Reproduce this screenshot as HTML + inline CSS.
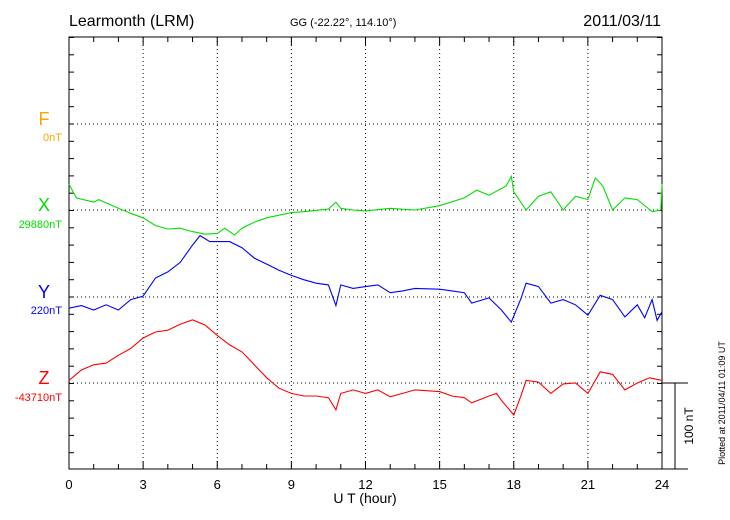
<!DOCTYPE html>
<html><head><meta charset="utf-8"><style>
body{margin:0;background:#fff;}
svg{display:block;font-family:"Liberation Sans",sans-serif;}
</style></head><body>
<svg id="chart" width="730" height="520" viewBox="0 0 730 520">
<text x="69" y="26" font-size="16">Learmonth (LRM)</text>
<text x="290" y="26" font-size="11">GG (-22.22°, 114.10°)</text>
<text x="661" y="26" font-size="16" text-anchor="end">2011/03/11</text>
<g id="axes"></g>
<g id="series"></g>
<text x="44" y="125" font-size="18" fill="#f5a800" text-anchor="middle">F</text>
<text x="62" y="141" font-size="11" fill="#f5a800" text-anchor="end">0nT</text>
<text x="44" y="211" font-size="18" fill="#00e000" text-anchor="middle">X</text>
<text x="62" y="228" font-size="11" fill="#00e000" text-anchor="end">29880nT</text>
<text x="44" y="298" font-size="18" fill="#0000ff" text-anchor="middle">Y</text>
<text x="62" y="314" font-size="11" fill="#0000ff" text-anchor="end">220nT</text>
<text x="44" y="384" font-size="18" fill="#ff0000" text-anchor="middle">Z</text>
<text x="62" y="401" font-size="11" fill="#ff0000" text-anchor="end">-43710nT</text>
<text x="365" y="503" font-size="14" text-anchor="middle">U T (hour)</text>
<text transform="translate(693,426) rotate(-90)" font-size="12" text-anchor="middle">100 nT</text>
<text transform="translate(725,403) rotate(-90)" font-size="9" text-anchor="middle">Plotted at 2011/04/11 01:09 UT</text>
</svg>
<script>
const hoursX=[0,0.3,1,1.2,2,2.6,3,3.5,4,4.5,5,5.5,6,6.3,6.7,7,7.5,8,9,9.5,10.5,10.8,11,11.5,12,13,14,15,16,16.5,17,17.7,17.9,18,18.5,19,19.5,20,20.5,21,21.3,21.6,22,22.5,23,23.6,23.95,24];
const valuesX=[30,14,9,12,2,-5,-9,-18,-22,-21,-25,-28,-27,-21,-29,-21,-14,-9,-3,-2,1,9,2,0,-1,2,0,5,14,23,17,28,39,21,0,16,21,0,16,12,37,28,0,14,12,-2,0,30];
const hoursY=[0,0.5,1,1.5,2,2.5,3,3.5,4,4.5,5,5.3,5.7,6,6.5,7,7.5,8,8.5,9,9.5,10,10.5,10.8,11,11.5,12,12.5,13,13.5,14,15,15.5,16,16.3,17,17.5,17.9,18.3,18.5,19,19.5,20,20.5,21,21.5,22,22.5,23,23.3,23.6,23.8,24];
const valuesY=[-13,-10,-15,-9,-15,-3,1,22,29,40,60,71,64,64,64,57,45,38,31,25,20,16,14,-10,14,10,12,14,5,7,10,9,7,5,-7,-1,-15,-29,-1,16,12,-7,-3,-9,-21,2,-3,-23,-9,-24,-3,-27,-17];
const hoursZ=[0,0.5,1,1.5,2,2.5,3,3.5,4,4.5,5,5.5,6,6.5,7,7.5,8,8.5,9,9.5,10,10.5,10.8,11,11.5,12,12.5,13,13.5,14,15,15.5,16,16.3,17,17.3,17.5,18,18.3,18.5,19,19.5,20,20.5,21,21.5,22,22.5,23,23.5,24];
const valuesZ=[3,15,21,23,32,40,52,59,61,68,73,67,55,44,36,21,6,-6,-12,-15,-15,-17,-31,-12,-8,-12,-8,-16,-12,-8,-10,-15,-17,-23,-15,-12,-20,-37,-14,3,1,-12,-1,0,-12,13,10,-8,0,6,3];
const xTickLabels=["0","3","6","9","12","15","18","21","24"];

const NS="http://www.w3.org/2000/svg";
const L=69,R=662,T=37,B=469;
const pxPerNT=0.865;
const bases={X:210,Y:297,Z:383};
function xs(h){return L+(R-L)*h/24;}
function ys(base,v){return base-v*pxPerNT;}
function mk(tag,attrs,parent){const e=document.createElementNS(NS,tag);for(const k in attrs)e.setAttribute(k,attrs[k]);parent.appendChild(e);return e;}
const ax=document.getElementById('axes');
// grid
for(let i=1;i<8;i++){const g=mk('line',{x1:xs(i*3),x2:xs(i*3),y1:T,y2:B,stroke:'#000','stroke-width':1,'stroke-dasharray':'1,3'},ax);

}
[124,210,297,383].forEach(y=>{const g=mk('line',{x1:L,x2:R,y1:y,y2:y,stroke:'#000','stroke-width':1,'stroke-dasharray':'1,3'},ax);

});
// frame
const fr=mk('path',{d:`M${L},${T}H${R}V${B}H${L}Z`,fill:'none',stroke:'#000','stroke-width':1},ax);


for(let h=0;h<=24;h++){const len=(h%3===0)?8:5;
mk('line',{x1:xs(h),x2:xs(h),y1:B,y2:B-len,stroke:'#000'},ax);
mk('line',{x1:xs(h),x2:xs(h),y1:T,y2:T+len,stroke:'#000'},ax);}
for(let y=T+(124-T)%17.3;y<B;y+=17.3){mk('line',{x1:L,x2:L+5,y1:y,y2:y,stroke:'#000'},ax);mk('line',{x1:R,x2:R-5,y1:y,y2:y,stroke:'#000'},ax);}
xTickLabels.forEach((t,i)=>{const tx=mk('text',{x:xs(i*3),y:489,'font-size':13,'text-anchor':'middle'},ax);tx.textContent=t;

});
// scale bar
mk('line',{x1:R,x2:688,y1:383,y2:383,stroke:'#000'},ax);
mk('line',{x1:R,x2:688,y1:B,y2:B,stroke:'#000'},ax);
const sb=mk('line',{x1:675,x2:675,y1:383,y2:383+100*pxPerNT,stroke:'#000'},ax);


const se=document.getElementById('series');
[[hoursX,valuesX,'X','#00e000','x-component-line'],[hoursY,valuesY,'Y','#0000ff','y-component-line'],[hoursZ,valuesZ,'Z','#ff0000','z-component-line']].forEach(([hs,vs,k,c,n])=>{
const pts=hs.map((h,i)=>xs(h).toFixed(1)+','+ys(bases[k],vs[i]).toFixed(1)).join(' ');
const p=mk('polyline',{points:pts,fill:'none',stroke:c,'stroke-width':1.1},se);

});
</script>
</body></html>
